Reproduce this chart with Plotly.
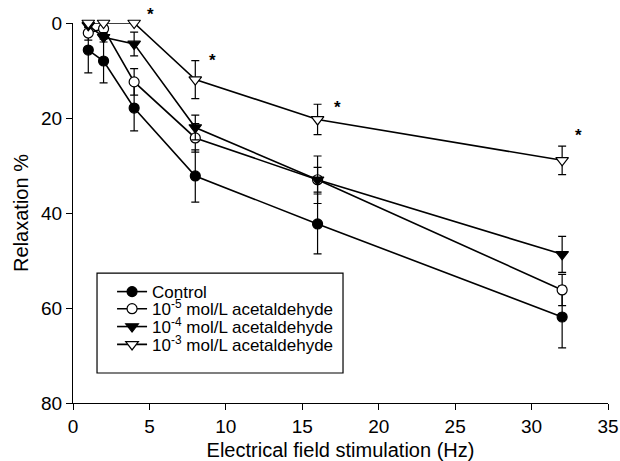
import plotly.graph_objects as go

freq = [1, 2, 4, 8, 16, 32]
control = [5.7, 8.0, 17.9, 32.2, 42.3, 61.9]
control_err = [4.8, 4.6, 4.8, 5.5, 6.3, 6.5]
ace5 = [2.1, 1.2, 12.4, 24.2, 33.0, 56.2]
ace5_err = [1.5, 1.0, 2.8, 3.0, 5.0, 3.3]
ace4 = [0.5, 3.0, 4.4, 22.0, 33.0, 48.7]
ace4_err = [0.5, 1.0, 2.5, 2.6, 2.6, 3.8]
ace3 = [0.0, 0.0, 0.0, 11.9, 20.3, 28.9]
ace3_err = [0.0, 0.0, 0.0, 4.0, 3.2, 3.0]
star_x = [5.1, 9.1, 17.3, 33.1]
star_y = [0.0, 7.8, 17.8, 23.6]
star_shift = [9, 0, 0, 0]

names = ["Control",
         "10<sup>-5</sup> mol/L acetaldehyde",
         "10<sup>-4</sup> mol/L acetaldehyde",
         "10<sup>-3</sup> mol/L acetaldehyde"]
series = [control, ace5, ace4, ace3]
errs = [control_err, ace5_err, ace4_err, ace3_err]
symbols = ["circle", "circle", "triangle-down", "triangle-down"]
fills = ["black", "white", "black", "white"]
sizes = [10, 10, 11, 11]
legend_ids = ["legend", "legend2", "legend3", "legend4"]
legend_rows = [0.292, 0.247, 0.200, 0.153]

fig = go.Figure()
for name, ys, es, sym, fc, sz, lg in zip(names, series, errs, symbols, fills, sizes, legend_ids):
    fig.add_trace(go.Scatter(
        x=freq, y=ys, name=name, mode="lines+markers", legend=lg,
        line=dict(color="black", width=1.6),
        marker=dict(symbol=sym, size=sz, color=fc, line=dict(color="black", width=1.2)),
        error_y=dict(type="data", array=es, color="black", thickness=1.2, width=4),
        cliponaxis=False,
    ))

for sx, sy, sh in zip(star_x, star_y, star_shift):
    fig.add_annotation(x=sx, y=sy, yshift=sh, text="<b>*</b>", showarrow=False,
                       font=dict(size=17, color="black"))

# legend frame
fig.add_shape(type="rect", xref="paper", yref="paper",
              x0=0.0449, x1=0.5047, y0=0.079, y1=0.342,
              line=dict(color="black", width=1.2), fillcolor="white", layer="below")

leg_common = dict(xanchor="left", yanchor="middle", bgcolor="rgba(0,0,0,0)",
                  borderwidth=0, font=dict(size=17), itemwidth=30)
layout_legends = {}
for lg, ry in zip(legend_ids, legend_rows):
    layout_legends[lg] = dict(x=0.073, y=ry, **leg_common)

fig.update_layout(
    width=620, height=461,
    margin=dict(l=73, r=12, t=23, b=58, autoexpand=False),
    paper_bgcolor="white", plot_bgcolor="white",
    font=dict(family="Liberation Sans, Arial", color="black", size=19),
    showlegend=True,
    **layout_legends,
)
fig.update_xaxes(range=[0, 35], tickvals=[0, 5, 10, 15, 20, 25, 30, 35],
                 showline=True, linecolor="black", linewidth=1.2,
                 ticks="outside", ticklen=6, tickcolor="black", showgrid=False,
                 zeroline=False, automargin=False, tickfont=dict(size=19),
                 ticklabeloverflow="allow",
                 title=dict(text="Electrical field stimulation (Hz)", font=dict(size=20), standoff=8))
fig.update_yaxes(range=[80, 0], tickvals=[0, 20, 40, 60, 80],
                 showline=True, linecolor="black", linewidth=1.2,
                 ticks="outside", ticklen=6, tickcolor="black", showgrid=False,
                 zeroline=False, automargin=False, tickfont=dict(size=19),
                 title=dict(text="Relaxation %", font=dict(size=20), standoff=6))

fig.write_html("out.html", config={"displayModeBar": False},
               post_script="document.body.style.margin='0';document.body.style.padding='0';")
